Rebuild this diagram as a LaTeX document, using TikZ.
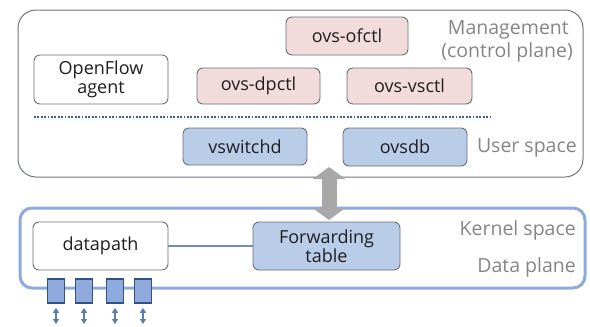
\documentclass[tikz,border=0pt]{standalone}
\usepackage{fontspec}
\setmainfont{Open Sans}
\usetikzlibrary{arrows.meta}
\definecolor{pinkfill}{HTML}{F2DCDB}
\definecolor{bluefill}{HTML}{B9CCE8}
\definecolor{boxline}{HTML}{6B6F78}
\definecolor{outerline}{HTML}{6E7682}
\definecolor{kernline}{HTML}{8FAADC}
\definecolor{labelgray}{HTML}{858585}
\definecolor{dotblue}{HTML}{3E5F96}
\definecolor{portfill}{HTML}{8FAADC}
\definecolor{portline}{HTML}{34527F}
\definecolor{arrowblue}{HTML}{5B7DB1}
\definecolor{biggray}{HTML}{A8A8A8}
\definecolor{linkblue}{HTML}{6F8CB8}
\tikzset{
  box/.style={draw=boxline, line width=0.9pt, rounded corners=6pt, inner sep=0pt, align=center,
    font=\fontsize{18}{19.5}\selectfont, text=black!88},
  pinkbox/.style={box, fill=pinkfill},
  bluebox/.style={box, fill=bluefill},
  whitebox/.style={box, fill=white},
  lbl/.style={text=labelgray, font=\fontsize{19.5}{21}\selectfont, anchor=east, inner sep=0pt},
  port/.style={draw=portline, fill=portfill, line width=1.6pt, minimum width=17pt, minimum height=24pt, inner sep=0pt},
  portarrow/.style={arrowblue, line width=1.6pt, {Triangle[width=6pt,length=5pt]}-{Triangle[width=6pt,length=5pt]}}
}
\begin{document}
\begin{tikzpicture}[x=1pt,y=-1pt]
\useasboundingbox (0,0) rectangle (590,327);
% outer containers
\draw[outerline, line width=1pt, rounded corners=18pt] (18,10) rectangle (583,177);
\draw[kernline, line width=3pt, rounded corners=12pt] (20,208) rectangle (585,288);
% labels
\node[lbl] (mgmt) at (569,30) {Management};
\node[lbl] (ctrl) at (573,52) {(control plane)};
\node[lbl] (user) at (577,148) {User space};
\node[lbl] (kern) at (576,230) {Kernel space};
\node[lbl] (dplane) at (576,267) {Data plane};
% user space boxes
\node[pinkbox, minimum width=122pt, minimum height=38pt] (ofctl) at (347,36) {ovs-ofctl};
\node[whitebox, minimum width=134pt, minimum height=49pt] (agent) at (101,79.5) {OpenFlow\\agent};
\node[pinkbox, minimum width=123pt, minimum height=36pt] (dpctl) at (258.5,86) {ovs-dpctl};
\node[pinkbox, minimum width=125pt, minimum height=36pt] (vsctl) at (409.5,86) {ovs-vsctl};
\coordinate (dl) at (34,117);
\coordinate (dr) at (492,117);
\draw[dotblue, line width=1.8pt, dash pattern=on 1.8pt off 1.6pt] (dl) -- (dr);
\node[bluebox, minimum width=124pt, minimum height=37pt] (vswitchd) at (245,146.5) {vswitchd};
\node[bluebox, minimum width=124pt, minimum height=38pt] (ovsdb) at (405,147) {ovsdb};
% kernel boxes
\node[whitebox, minimum width=135pt, minimum height=48pt] (datapath) at (100.5,246) {datapath};
\node[bluebox, minimum width=147pt, minimum height=48pt] (fwd) at (326.5,246) {Forwarding\\table};
\draw[linkblue, line width=1.5pt] (datapath) -- (fwd);
% big arrow
\coordinate (at) at (329,167);
\coordinate (ab) at (329,220);
\draw[biggray, line width=15pt, {Triangle[width=32pt,length=12pt]}-{Triangle[width=32pt,length=12pt]}] (at) -- (ab);
% ports
\foreach \i/\x in {1/56,2/84,3/115,4/143}{
  \node[port] (p\i) at (\x,291) {};
  \coordinate (q\i) at (\x,324);
  \draw[portarrow] ([yshift=-4pt]p\i.south) -- (q\i);
}
\end{tikzpicture}
\end{document}
